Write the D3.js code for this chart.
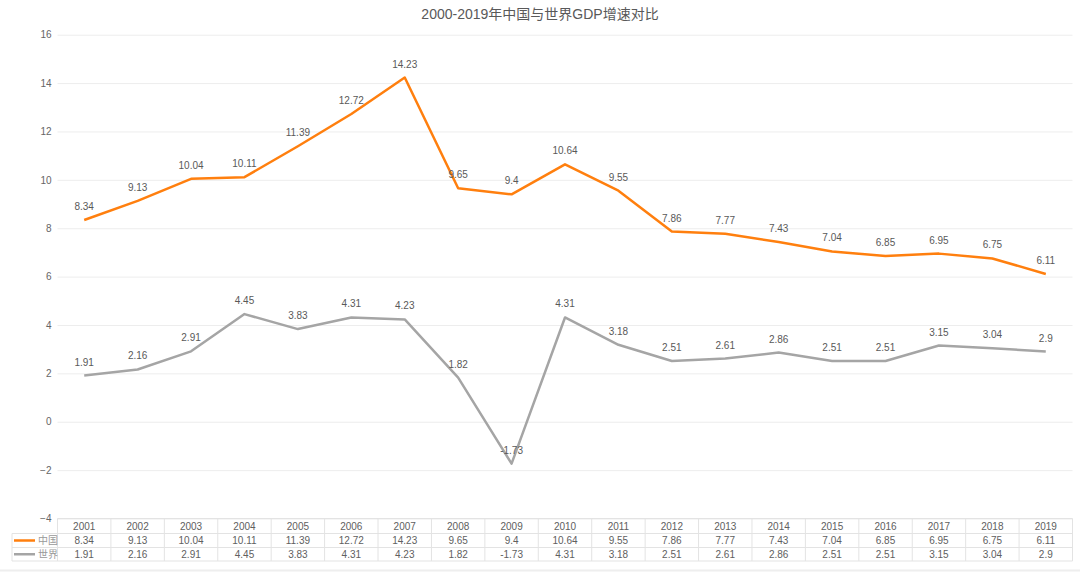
<!DOCTYPE html>
<html><head><meta charset="utf-8">
<script src="https://cdn.jsdelivr.net/npm/d3@7"></script>
<style>
body{margin:0;background:#fff;font-family:"Liberation Sans","Noto Sans CJK SC",sans-serif;}
</style></head>
<body><svg id="c" width="1080" height="572"></svg>
<script>
const years = ["2001","2002","2003","2004","2005","2006","2007","2008","2009","2010","2011","2012","2013","2014","2015","2016","2017","2018","2019"];
const china = [8.34,9.13,10.04,10.11,11.39,12.72,14.23,9.65,9.4,10.64,9.55,7.86,7.77,7.43,7.04,6.85,6.95,6.75,6.11];
const world = [1.91,2.16,2.91,4.45,3.83,4.31,4.23,1.82,-1.73,4.31,3.18,2.51,2.61,2.86,2.51,2.51,3.15,3.04,2.9];
const yTicks = [-4,-2,0,2,4,6,8,10,12,14,16];
const seriesNames = ["中国","世界"];
const title = "2000-2019年中国与世界GDP增速对比";

(function(){
const svg = d3.select("#c");
const font = '"Liberation Sans","Noto Sans CJK SC",sans-serif';
const pL = 57.5, pR = 1072.5, pT = 34.7, pB = 518.5;
const x = d3.scaleBand().domain(years).range([pL, pR]);
const y = d3.scaleLinear().domain([-4,16]).range([pB, pT]);
const colors = ["#ff7f0e","#a5a5a5"];

svg.append("text").attr("x",540).attr("y",19).attr("text-anchor","middle")
  .attr("font-size",14).attr("fill","#595959").attr("font-family",font).text(title);

const yAxis = d3.axisLeft(y).tickValues(yTicks).tickSize(-(pR-pL)).tickFormat(d3.format("d"));
const ga = svg.append("g").attr("transform",`translate(${pL},0)`).call(yAxis);
ga.select(".domain").remove();
ga.selectAll(".tick line").attr("stroke","#ededed").attr("stroke-width",1);
ga.selectAll(".tick text").attr("x",-6).attr("fill","#666").attr("font-size",10).attr("font-family",font);

const cx = d => x(d) + x.bandwidth()/2;
[china, world].forEach((vals,i)=>{
  const line = d3.line().x((d,j)=>cx(years[j])).y(d=>y(d));
  svg.append("path").datum(vals).attr("d",line).attr("fill","none")
    .attr("stroke",colors[i]).attr("stroke-width",2.5).attr("stroke-linejoin","round");
});
[china, world].forEach((vals,i)=>{
  svg.append("g").selectAll("text").data(vals).join("text")
    .attr("x",(d,j)=>cx(years[j])).attr("y",d=>y(d)-10)
    .attr("text-anchor","middle").attr("font-size",10).attr("fill","#595959")
    .attr("font-family",font).text(d=>d);
});

const rowY = [518.5, 533.5, 547.5, 561];
const tb = svg.append("g");
const lc = "#e3e3e3";
tb.append("line").attr("x1",pL).attr("x2",pR).attr("y1",rowY[0]).attr("y2",rowY[0]).attr("stroke",lc);
[1,2,3].forEach(k=>{
  tb.append("line").attr("x1",12).attr("x2",pR).attr("y1",rowY[k]).attr("y2",rowY[k]).attr("stroke",lc);
});
years.forEach(yr=>{
  tb.append("line").attr("x1",x(yr)).attr("x2",x(yr)).attr("y1",rowY[0]).attr("y2",rowY[3]).attr("stroke",lc);
});
tb.append("line").attr("x1",pR).attr("x2",pR).attr("y1",rowY[0]).attr("y2",rowY[3]).attr("stroke",lc);
tb.append("line").attr("x1",12).attr("x2",12).attr("y1",rowY[1]).attr("y2",rowY[3]).attr("stroke",lc);

const cellText = (t,xx,row)=>tb.append("text").attr("x",xx).attr("y",(rowY[row]+rowY[row+1])/2+3.5)
  .attr("text-anchor","middle").attr("font-size",10).attr("fill","#606060").attr("font-family",font).text(t);
years.forEach((yr,j)=>{
  cellText(yr,cx(yr),0);
  cellText(china[j],cx(yr),1);
  cellText(world[j],cx(yr),2);
});
seriesNames.forEach((n,i)=>{
  const ym = (rowY[i+1]+rowY[i+2])/2;
  tb.append("line").attr("x1",14).attr("x2",35).attr("y1",ym).attr("y2",ym).attr("stroke",colors[i]).attr("stroke-width",2.5);
  tb.append("text").attr("x",38).attr("y",ym+3.5).attr("font-size",10).attr("fill","#999")
    .attr("font-family",'"Noto Sans CJK SC",sans-serif').text(n);
});

svg.append("line").attr("x1",0).attr("x2",1080).attr("y1",570.5).attr("y2",570.5).attr("stroke","#eee").attr("stroke-width",2);
})();
</script></body></html>
